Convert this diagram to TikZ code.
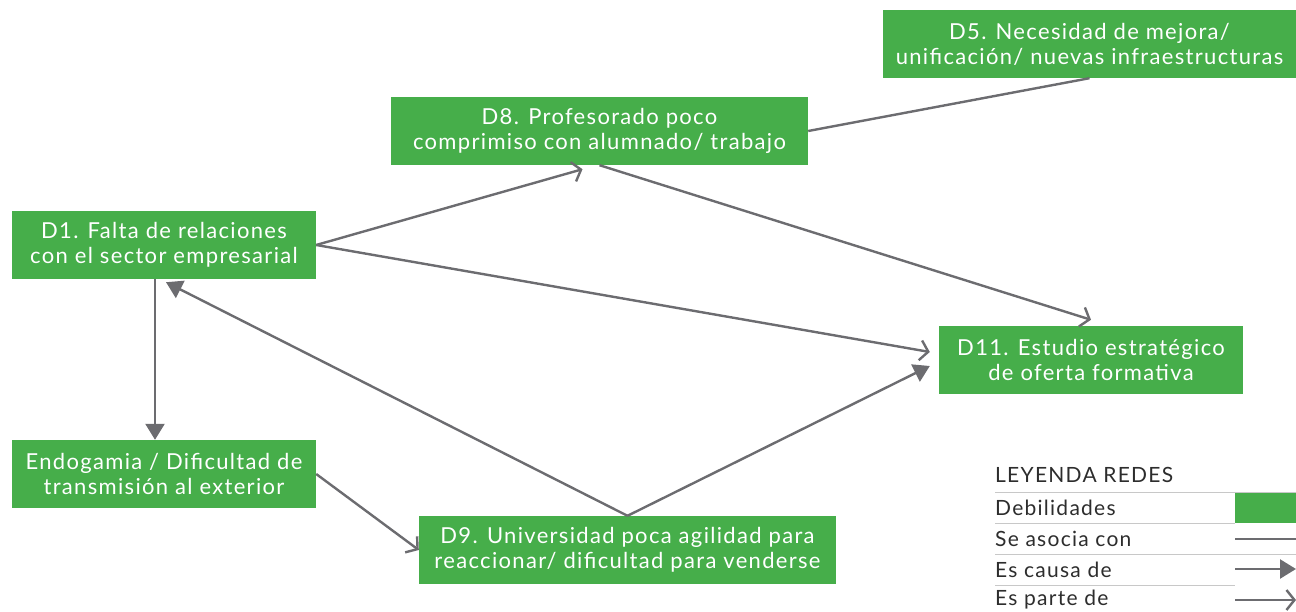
\documentclass[tikz,border=0pt]{standalone}
\usepackage{fontspec}
\setmainfont{Lato}[LetterSpace=6]
\usetikzlibrary{arrows.meta,calc}
\definecolor{dgreen}{RGB}{70,174,74}
\definecolor{lgray}{RGB}{108,108,112}
\definecolor{sepgray}{RGB}{200,200,200}
\definecolor{txtgray}{RGB}{45,45,45}
\begin{document}
\begin{tikzpicture}[x=1pt,y=-1pt,
  weak/.style={fill=dgreen,text=white,align=center,inner sep=0pt,
    minimum height=68pt,font=\fontsize{22}{25}\selectfont},
  link/.style={draw=lgray,line width=2.4pt},
  cause/.style={link,-{Triangle[length=16pt,width=19pt]}},
  part/.style={link,-{Straight Barb[length=8pt,width=20pt,line width=2.4pt]}},
  legtext/.style={anchor=west,text=txtgray,inner sep=0pt,font=\fontsize{21}{22}\selectfont},
  sep/.style={draw=sepgray,line width=1pt}]
\useasboundingbox (0,0) rectangle (1296,612);

% weakness boxes
\node[weak,minimum width=413pt] (D5) at (1089.5,44) {D5. Necesidad de mejora/\\unificación/ nuevas infraestructuras};
\node[weak,minimum width=417pt] (D8) at (599.5,131) {D8. Profesorado poco\\comprimiso con alumnado/ trabajo};
\node[weak,minimum width=304pt] (D1) at (164,245) {D1. Falta de relaciones\\con el sector empresarial};
\node[weak,minimum width=304pt] (D11) at (1091,360) {D11. Estudio estratégico\\de oferta formativa};
\node[weak,minimum width=304pt] (Endo) at (164,474) {Endogamia / Dificultad de\\transmisión al exterior};
\node[weak,minimum width=417pt] (D9) at (627.5,550) {D9. Universidad poca agilidad para\\reaccionar/ dificultad para venderse};

% relations
\draw[link] (D8.east) -- (D5.south);
\draw[part] (D1.east) -- ($(D8.south)+(-17,4)$);
\draw[part] (D8.south) -- ($(D11.north)+(0,-6)$);
\draw[part] (D1.east) -- ($(D11.west)+(-9,-8)$);
\draw[cause] ($(D1.south)+(-9,0)$) -- ($(Endo.north)+(-9,0)$);
\draw[cause] (D9.north) -- ($(D1.south)+(2,3)$);
\draw[cause] (D9.north) -- ($(D11.west)+(-9,6)$);
\draw[part] (Endo.east) -- (D9.west);

% legend
\node[legtext] (legT) at (995,475) {LEYENDA REDES};
\coordinate (s1a) at (995,492.5); \coordinate (s1b) at (1296,492.5);
\coordinate (s2a) at (995,523); \coordinate (s2b) at (1235,523);
\coordinate (s3a) at (995,554); \coordinate (s3b) at (1296,554);
\coordinate (s4a) at (995,585); \coordinate (s4b) at (1235,585);
\draw[sep] (s1a) -- (s1b);
\draw[sep] (s2a) -- (s2b);
\draw[sep] (s3a) -- (s3b);
\draw[sep] (s4a) -- (s4b);
\node[legtext] (legW) at (995,508) {Debilidades};
\node[legtext] (legA) at (995,539) {Se asocia con};
\node[legtext] (legC) at (995,570) {Es causa de};
\node[legtext] (legP) at (995,600) {Es parte de};
\node[fill=dgreen,inner sep=0pt,minimum width=61pt,minimum height=30pt] (legBox) at (1265.5,508) {};
\coordinate (la1) at (1235,539); \coordinate (la2) at (1296,539);
\coordinate (lc1) at (1235,569); \coordinate (lc2) at (1296,569);
\coordinate (lp1) at (1235,600); \coordinate (lp2) at (1296,600);
\draw[link] (la1) -- (la2);
\draw[cause] (lc1) -- (lc2);
\draw[part] (lp1) -- (lp2);
\end{tikzpicture}
\end{document}
